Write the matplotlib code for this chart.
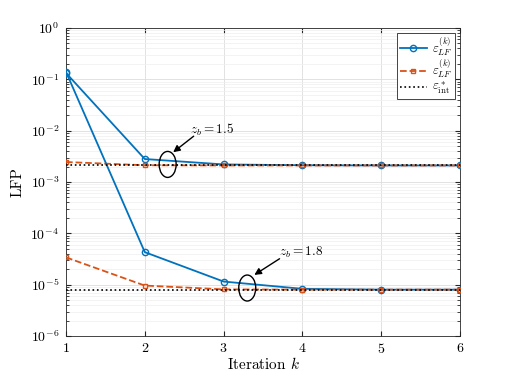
import numpy as np
import matplotlib
matplotlib.use("Agg")
import matplotlib.pyplot as plt
from matplotlib.patches import Ellipse

plt.rcParams['font.family'] = 'serif'
plt.rcParams['font.serif'] = ['cmr10', 'DejaVu Serif']
plt.rcParams['mathtext.fontset'] = 'cm'
plt.rcParams['axes.formatter.use_mathtext'] = True

k = [1, 2, 3, 4, 5, 6]
lf_15 = [0.133, 2.8e-3, 2.2e-3, 2.12e-3, 2.1e-3, 2.1e-3]
lf2_15 = [2.45e-3, 2.12e-3, 2.1e-3, 2.1e-3, 2.1e-3, 2.1e-3]
int_15 = 2.1e-3
lf_18 = [0.14, 4.3e-5, 1.15e-5, 8.3e-6, 8.0e-6, 8.0e-6]
lf2_18 = [3.4e-5, 9.6e-6, 8.1e-6, 8.0e-6, 8.0e-6, 8.0e-6]
int_18 = 7.9e-6

blue = '#0072BD'
orange = '#D95319'

fig = plt.figure(figsize=(5.09, 3.71), dpi=100)
ax = fig.add_axes([66/509, 1 - 336/371, (460-66)/509, (336-28)/371])

ax.plot(k, lf_15, '-o', color=blue, lw=1.3, ms=4.5, mfc='none', mew=1.0, label=r'$\varepsilon_{LF}^{(k)}$', zorder=3)
ax.plot(k, lf2_15, '--s', color=orange, lw=1.3, ms=3.5, mfc='none', mew=1.0, label=r'$\varepsilon_{LF}^{(k)}$', zorder=3)
ax.plot([1, 6], [int_15, int_15], ':', color='black', lw=1.2, label=r'$\varepsilon^*_{\rm int}$', zorder=4)
ax.plot(k, lf_18, '-o', color=blue, lw=1.3, ms=4.5, mfc='none', mew=1.0, zorder=3)
ax.plot(k, lf2_18, '--s', color=orange, lw=1.3, ms=3.5, mfc='none', mew=1.0, zorder=3)
ax.plot([1, 6], [int_18, int_18], ':', color='black', lw=1.2, zorder=4)

ax.set_yscale('log')
ax.set_xlim(1, 6)
ax.set_ylim(1e-6, 1)
ax.set_xticks(k)
ax.set_yticks([1e-6, 1e-5, 1e-4, 1e-3, 1e-2, 1e-1, 1])
ax.grid(True, which='major', color='#dddddd', lw=0.6)
ax.grid(True, which='minor', axis='y', color='#eeeeee', lw=0.5)
ax.tick_params(direction='in', which='both', top=True, right=True, labelsize=10, color='#262626')
ax.tick_params(axis='x', which='major', pad=4)
ax.tick_params(axis='y', which='major', pad=5)
ax.tick_params(axis='x', which='minor', bottom=False, top=False)
for s in ax.spines.values():
    s.set_color('#262626')
    s.set_linewidth(0.6)

ax.set_xlabel(r'Iteration $k$', fontsize=11, labelpad=0)
ax.set_ylabel('LFP', fontsize=11, labelpad=4)

def ell(xc, yc, wpx, hpx):
    xd, yd = ax.transData.transform((xc, yc))
    e = Ellipse((xd, yd), wpx, hpx, transform=None, fill=False, ec='black', lw=1.0, zorder=5)
    ax.add_artist(e)

fig.canvas.draw()
ell(2.29, 2.2e-3, 17, 26)
ell(3.30, 8.6e-6, 17, 26)

ax.annotate('', xy=(2.36, 3.8e-3), xytext=(2.62, 7.8e-3),
            arrowprops=dict(arrowstyle='-|>', color='black', lw=1.0, mutation_scale=10, shrinkA=0, shrinkB=0))
ax.text(2.57, 1.05e-2, r'$z_b = 1.5$', fontsize=9.5, va='center', ha='left')
ax.annotate('', xy=(3.39, 1.55e-5), xytext=(3.71, 3.2e-5),
            arrowprops=dict(arrowstyle='-|>', color='black', lw=1.0, mutation_scale=10, shrinkA=0, shrinkB=0))
ax.text(3.70, 4.3e-5, r'$z_b = 1.8$', fontsize=9.5, va='center', ha='left')

leg = ax.legend(loc='upper right', fontsize=9, fancybox=False, framealpha=1,
                edgecolor='#262626', handlelength=2.2, borderpad=0.2, labelspacing=0.0,
                handletextpad=0.4, borderaxespad=0.4)
leg.get_frame().set_linewidth(0.6)

fig.savefig('out.png', dpi=100)
